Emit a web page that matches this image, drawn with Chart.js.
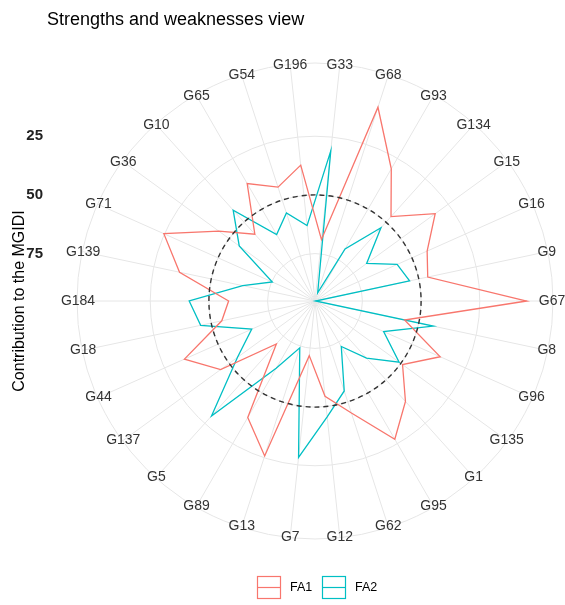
<!DOCTYPE html>
<html>
<head>
<meta charset="utf-8">
<title>Strengths and weaknesses view</title>
<script src="https://cdn.jsdelivr.net/npm/chart.js@4.4.1/dist/chart.umd.min.js"></script>
<style>
  html, body { margin: 0; padding: 0; background: #ffffff; }
  #wrap { width: 565px; height: 605px; position: relative; }
</style>
</head>
<body>
<div id="wrap"><canvas id="chart" width="565" height="605"></canvas></div>
<script>
// Genotypes, clockwise from the top
const genotypes = ['G33', 'G68', 'G93', 'G134', 'G15', 'G16', 'G9', 'G67', 'G8', 'G96',
  'G135', 'G1', 'G95', 'G62', 'G12', 'G7', 'G13', 'G89', 'G5', 'G137',
  'G44', 'G18', 'G184', 'G139', 'G71', 'G36', 'G10', 'G65', 'G54', 'G196'];

// Contribution (%) of each factor to the MGIDI of each genotype
const fa1 = [68.9, 8.4, 30.2, 46.8, 31.9, 42.9, 46.1, 5.0, 56.2, 36.8,
  49.1, 37.6, 27.2, 45.0, 54.4, 71.8, 25.8, 37.9, 70.6, 45.5,
  34.3, 54.6, 58.4, 36.2, 24.7, 44.6, 56.9, 37.4, 44.2, 37.0];
const fa2 = [30.9, 91.5, 69.6, 53.2, 68.0, 56.9, 54.0, 95.0, 43.7, 63.2,
  50.9, 62.4, 72.8, 54.9, 45.6, 28.2, 74.2, 62.1, 29.3, 54.4,
  65.7, 45.4, 41.6, 63.7, 75.3, 55.3, 43.1, 62.5, 55.8, 62.9];

// Radial axis: reversed, so small contributions sit far from the centre
const axisMin = -6.2;
const axisMax = 95.2;
const tickValues = [25, 50, 75];
const referenceLevel = 50;   // 100 / number of factors

const seriesNames = ['FA1', 'FA2'];
const seriesColors = ['#F8766D', '#00BFC4'];

const FONT = '"Liberation Sans", Arial, Helvetica, sans-serif';

const overlay = {
  id: 'overlay',
  afterDatasetsDraw(chart) {
    const r = chart.scales.r;
    const ctx = chart.ctx;
    // dashed reference circle
    ctx.save();
    ctx.beginPath();
    ctx.setLineDash([5, 4]);
    ctx.lineWidth = 1.4;
    ctx.strokeStyle = '#333333';
    ctx.arc(r.xCenter, r.yCenter, r.getDistanceFromCenterForValue(referenceLevel), 0, Math.PI * 2);
    ctx.stroke();
    ctx.restore();
  },
  afterDraw(chart) {
    const r = chart.scales.r;
    const ctx = chart.ctx;
    ctx.save();

    // title
    ctx.fillStyle = '#000000';
    ctx.font = '18px ' + FONT;
    ctx.textAlign = 'left';
    ctx.textBaseline = 'alphabetic';
    ctx.fillText('Strengths and weaknesses view', 47, 24.5);

    // genotype labels on the outer ring
    ctx.fillStyle = '#333333';
    ctx.font = '14px ' + FONT;
    ctx.textAlign = 'center';
    ctx.textBaseline = 'middle';
    const outer = r.getDistanceFromCenterForValue(axisMin) - 1;
    genotypes.forEach((g, i) => {
      const p = r.getPointPosition(i, outer);
      ctx.fillText(g, p.x, p.y);
    });

    // radial tick labels on the left
    ctx.fillStyle = '#222222';
    ctx.font = 'bold 15px ' + FONT;
    ctx.textAlign = 'right';
    tickValues.forEach(v => {
      const y = r.yCenter - r.getDistanceFromCenterForValue(v);
      ctx.fillText(String(v), 43, y);
    });

    // axis title
    ctx.save();
    ctx.translate(24, r.yCenter);
    ctx.rotate(-Math.PI / 2);
    ctx.fillStyle = '#000000';
    ctx.font = '16px ' + FONT;
    ctx.textAlign = 'center';
    ctx.textBaseline = 'alphabetic';
    ctx.fillText('Contribution to the MGIDI', 0, 0);
    ctx.restore();

    // legend
    const keyX = [257, 322];
    const textX = [290, 355];
    ctx.font = '12.5px ' + FONT;
    ctx.textAlign = 'left';
    ctx.textBaseline = 'middle';
    seriesNames.forEach((name, i) => {
      ctx.strokeStyle = seriesColors[i];
      ctx.lineWidth = 1.2;
      ctx.strokeRect(keyX[i] + 0.5, 576.5, 23, 22);
      ctx.beginPath();
      ctx.moveTo(keyX[i] + 0.5, 587.5);
      ctx.lineTo(keyX[i] + 23.5, 587.5);
      ctx.stroke();
      ctx.fillStyle = '#000000';
      ctx.fillText(name, textX[i], 588);
    });

    ctx.restore();
  }
};

const datasets = [fa1, fa2].map((values, i) => ({
  label: seriesNames[i],
  data: values,
  borderColor: seriesColors[i],
  backgroundColor: 'rgba(0,0,0,0)',
  borderWidth: 1.3,
  fill: false,
  tension: 0,
  pointRadius: 0,
  pointHoverRadius: 0
}));

new Chart(document.getElementById('chart'), {
  type: 'radar',
  data: { labels: genotypes, datasets },
  options: {
    responsive: false,
    animation: false,
    events: [],
    layout: { padding: { left: 77, right: 12, top: 63, bottom: 66 } },
    plugins: {
      legend: { display: false },
      title: { display: false },
      tooltip: { enabled: false }
    },
    scales: {
      r: {
        reverse: true,
        min: axisMin,
        max: axisMax,
        startAngle: 6,
        ticks: { display: false, reverse: true },
        pointLabels: { display: false },
        grid: { color: '#e6e6e6', lineWidth: 1, circular: true },
        angleLines: { display: true, color: '#e6e6e6', lineWidth: 1 },
        afterBuildTicks(scale) {
          scale.ticks = [axisMin].concat(tickValues).map(v => ({ value: v }));
        }
      }
    }
  },
  plugins: [overlay]
});
</script>
</body>
</html>
